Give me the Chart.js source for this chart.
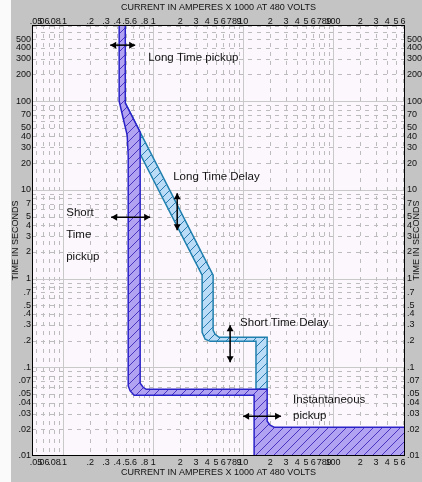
<!DOCTYPE html>
<html>
<head>
<meta charset="utf-8">
<script src="https://cdn.jsdelivr.net/npm/chart.js@4/dist/chart.umd.min.js"></script>
<style>
  html, body { margin: 0; padding: 0; background: #fff; }
</style>
</head>
<body>
<canvas id="tcc" width="422" height="482"></canvas>
<script>
// current in amperes x 1000 (x), time in seconds (y)
const xTickValues = [0.05, 0.06, 0.08, 0.1, 0.2, 0.3, 0.4, 0.5, 0.6, 0.8, 1, 2, 3, 4, 5, 6, 7, 8, 9, 10, 20, 30, 40, 50, 60, 70, 80, 90, 100, 200, 300, 400, 500, 600];
const xTickLabels = ['.05', '.06', '.08', '.1', '.2', '.3', '.4', '.5', '.6', '.8', '1', '2', '3', '4', '5', '6', '7', '8', '9', '10', '2', '3', '4', '5', '6', '7', '8', '9', '100', '2', '3', '4', '5', '6'];
const yTickValues = [0.01, 0.02, 0.03, 0.04, 0.05, 0.07, 0.1, 0.2, 0.3, 0.4, 0.5, 0.7, 1, 2, 3, 4, 5, 7, 10, 20, 30, 40, 50, 70, 100, 200, 300, 400, 500];
const yTickLabels = ['.01', '.02', '.03', '.04', '.05', '.07', '.1', '.2', '.3', '.4', '.5', '.7', '1', '2', '3', '4', '5', '7', '10', '20', '30', '40', '50', '70', '100', '200', '300', '400', '500'];

const xTitle = 'CURRENT IN AMPERES X 1000 AT 480 VOLTS';
const yTitle = 'TIME IN SECONDS';

// long time pickup + short time pickup + instantaneous band (purple)
const pickupCurrent = [0.419, 0.49, 0.49, 0.717, 0.717, 0.774, 0.836, 18.5, 18.5, 19.95, 22.1, 630, 630, 13.25, 13.25, 0.615, 0.555, 0.528, 0.528, 0.514, 0.464, 0.419, 0.419];
const pickupTime = [720, 720, 94.7, 44.6, 0.066, 0.0595, 0.0565, 0.0565, 0.0246, 0.0222, 0.0211, 0.0211, 0.01, 0.01, 0.0483, 0.0483, 0.0541, 0.0616, 24.5, 41.3, 64.1, 100, 720];

// long time delay + short time delay band (light blue)
const delayCurrent = [0.49, 4.64, 4.64, 4.89, 5.41, 18.5, 18.5, 13.9, 13.9, 4.30, 3.78, 3.5, 3.5, 0.717, 0.717, 0.49];
const delayTime = [94.7, 1.09, 0.261, 0.2355, 0.218, 0.218, 0.0565, 0.0565, 0.196, 0.196, 0.207, 0.248, 1.09, 25.2, 44.6, 94.7];

// callouts
const noteText = ['Long Time pickup', 'Long Time Delay', 'Short', 'Time', 'pickup', 'Short Time Delay', 'Instantaneous', 'pickup'];
const noteCurrent = [0.88, 1.67, 0.108, 0.108, 0.108, 9.26, 35.9, 35.9];
const noteTime = [305, 13.9, 5.56, 3.08, 1.74, 0.313, 0.0425, 0.028];

const arrowCurrentA = [0.333, 1.85, 0.341, 7.17, 10];
const arrowCurrentB = [0.631, 1.85, 0.926, 7.17, 26.4];
const arrowTimeA = [427, 9.15, 4.91, 0.298, 0.028];
const arrowTimeB = [427, 3.50, 4.91, 0.1139, 0.028];

const FONT = '"Liberation Sans", Arial, sans-serif';

function toPoints(xs, ys) {
    return xs.map((x, i) => ({ x: x, y: ys[i] }));
}

function hatch(bg, fg, size) {
    let tile = document.createElement('canvas');
    tile.width = size;
    tile.height = size;
    let g = tile.getContext('2d');
    g.fillStyle = bg;
    g.fillRect(0, 0, size, size);
    g.strokeStyle = fg;
    g.lineWidth = 1;
    g.beginPath();
    g.moveTo(0, size);
    g.lineTo(size, 0);
    g.moveTo(-1, 1);
    g.lineTo(1, -1);
    g.moveTo(size - 1, size + 1);
    g.lineTo(size + 1, size - 1);
    g.stroke();
    return document.getElementById('tcc').getContext('2d').createPattern(tile, 'repeat');
}

function drawArrow(ctx, x1, y1, x2, y2) {
    let ang = Math.atan2(y2 - y1, x2 - x1);
    let len = 6, half = 3.5;
    ctx.beginPath();
    ctx.moveTo(x1, y1);
    ctx.lineTo(x2, y2);
    ctx.stroke();
    [[x1, y1, ang + Math.PI], [x2, y2, ang]].forEach(([px, py, a]) => {
        ctx.beginPath();
        ctx.moveTo(px, py);
        ctx.lineTo(px - len * Math.cos(a) + half * Math.sin(a), py - len * Math.sin(a) - half * Math.cos(a));
        ctx.lineTo(px - len * Math.cos(a) - half * Math.sin(a), py - len * Math.sin(a) + half * Math.cos(a));
        ctx.closePath();
        ctx.fill();
    });
}

const tccPlugin = {
    id: 'tcc',
    beforeDraw(chart) {
        let ctx = chart.ctx;
        let a = chart.chartArea;
        let xs = chart.scales.x, ys = chart.scales.y;
        ctx.save();
        ctx.fillStyle = '#c4c4c4';
        ctx.fillRect(0, 0, chart.width, chart.height);
        ctx.fillStyle = '#fbfafb';
        ctx.fillRect(0, 0, 11, chart.height);
        ctx.fillStyle = '#fcf7fc';
        ctx.fillRect(a.left, a.top, a.right - a.left, a.bottom - a.top);

        for (let e = -2; e <= 2; e++) {
            for (let m = 1; m <= 9; m++) {
                let v = m * Math.pow(10, e);
                let major = m === 1;
                ctx.strokeStyle = major ? '#c9c9c9' : '#bcbcbc';
                ctx.setLineDash(major ? [] : [4, 5]);
                ctx.lineWidth = 1;
                if (v > xs.min && v < xs.max) {
                    let px = Math.round(xs.getPixelForValue(v)) + 0.5;
                    ctx.beginPath();
                    ctx.moveTo(px, a.top);
                    ctx.lineTo(px, a.bottom);
                    ctx.stroke();
                }
                if (v > ys.min && v < ys.max) {
                    let py = Math.round(ys.getPixelForValue(v)) + 0.5;
                    ctx.beginPath();
                    ctx.moveTo(a.left, py);
                    ctx.lineTo(a.right, py);
                    ctx.stroke();
                }
            }
        }
        ctx.restore();
    },
    afterDatasetsDraw(chart) {
        let ctx = chart.ctx;
        let a = chart.chartArea;
        let xs = chart.scales.x, ys = chart.scales.y;
        ctx.save();
        ctx.strokeStyle = '#000';
        ctx.fillStyle = '#000';
        ctx.lineWidth = 1.5;
        arrowCurrentA.forEach((c, i) => {
            drawArrow(ctx,
                xs.getPixelForValue(c), ys.getPixelForValue(arrowTimeA[i]),
                xs.getPixelForValue(arrowCurrentB[i]), ys.getPixelForValue(arrowTimeB[i]));
        });
        ctx.font = '11.5px ' + FONT;
        ctx.fillStyle = '#111';
        ctx.textAlign = 'left';
        ctx.textBaseline = 'middle';
        noteText.forEach((txt, i) => {
            ctx.fillText(txt, xs.getPixelForValue(noteCurrent[i]), ys.getPixelForValue(noteTime[i]));
        });
        ctx.lineWidth = 1;
        ctx.strokeStyle = '#000';
        ctx.strokeRect(a.left + 0.5, a.top + 0.5, a.right - a.left - 1, a.bottom - a.top - 1);
        ctx.restore();
    },
    afterDraw(chart) {
        let ctx = chart.ctx;
        let a = chart.chartArea;
        let cx = (a.left + a.right) / 2;
        let cy = (a.top + a.bottom) / 2;
        ctx.save();
        ctx.font = '9px ' + FONT;
        ctx.fillStyle = '#111';
        ctx.textAlign = 'center';
        ctx.textBaseline = 'middle';
        ctx.fillText(xTitle, cx, 8);
        ctx.fillText(xTitle, cx, 473);
        [15.5, 416.5].forEach(x => {
            ctx.save();
            ctx.translate(x, cy);
            ctx.rotate(-Math.PI / 2);
            ctx.fillText(yTitle, 0, 0);
            ctx.restore();
        });
        ctx.restore();
    }
};

function logAxis(position, min, max, values, labels, size, pad) {
    let horizontal = position === 'top' || position === 'bottom';
    return {
        type: 'logarithmic',
        position: position,
        min: min,
        max: max,
        bounds: 'data',
        grid: { drawOnChartArea: false, drawTicks: false },
        border: { display: false },
        afterBuildTicks: scale => {
            scale.ticks = values.map(v => ({ value: v }));
        },
        afterFit: scale => {
            if (horizontal) scale.height = size;
            else scale.width = size;
        },
        ticks: {
            autoSkip: false,
            maxRotation: 0,
            minRotation: 0,
            padding: pad,
            color: '#111',
            font: { family: FONT, size: 9 },
            callback: (value, index) => labels[index]
        }
    };
}

document.addEventListener('DOMContentLoaded', function () {
    let purple = hatch('#b2a3f2', '#4a35c0', 9);
    let blue = hatch('#badcf7', '#2a7ab0', 9);

    new Chart(document.getElementById('tcc'), {
        type: 'scatter',
        data: {
            datasets: [
                {
                    label: 'Pickup',
                    data: toPoints(pickupCurrent, pickupTime),
                    showLine: true,
                    fill: 'shape',
                    backgroundColor: purple,
                    borderColor: '#2a22c8',
                    borderWidth: 1.5,
                    pointRadius: 0,
                    pointHoverRadius: 0,
                    tension: 0
                },
                {
                    label: 'Delay',
                    data: toPoints(delayCurrent, delayTime),
                    showLine: true,
                    fill: 'shape',
                    backgroundColor: blue,
                    borderColor: '#1f7fae',
                    borderWidth: 1.5,
                    pointRadius: 0,
                    pointHoverRadius: 0,
                    tension: 0
                }
            ]
        },
        options: {
            responsive: false,
            animation: false,
            events: [],
            layout: { padding: 0 },
            plugins: {
                legend: { display: false },
                tooltip: { enabled: false }
            },
            scales: {
                x: logAxis('bottom', 0.045, 630, xTickValues, xTickLabels, 26, 1),
                x2: logAxis('top', 0.045, 630, xTickValues, xTickLabels, 25, -2),
                y: logAxis('left', 0.01, 720, yTickValues, yTickLabels, 32, 1),
                y2: logAxis('right', 0.01, 720, yTickValues, yTickLabels, 17, 2)
            }
        },
        plugins: [tccPlugin]
    });
});
</script>
</body>
</html>
